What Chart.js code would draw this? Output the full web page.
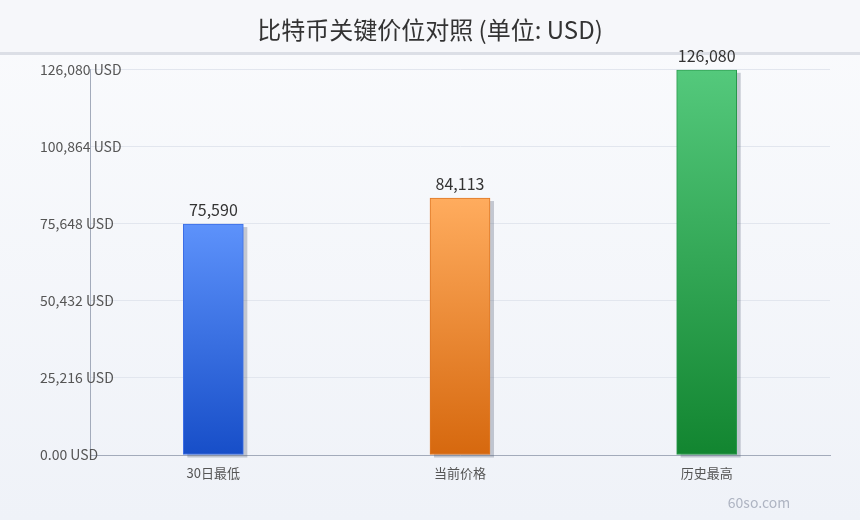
<!DOCTYPE html>
<html>
<head>
<meta charset="utf-8">
<script src="https://cdn.jsdelivr.net/npm/chart.js@4.4.1/dist/chart.umd.min.js"></script>
<style>
  html, body { margin: 0; padding: 0; background: #f4f6fa; }
  #wrap { width: 860px; height: 520px; position: relative; }
</style>
</head>
<body>
<div id="wrap"><canvas id="c" width="860" height="520"></canvas></div>
<script>
const categories = ['30日最低', '当前价格', '历史最高'];
const values = [75590, 84113, 126080];
const yTicks = [0, 25216, 50432, 75648, 100864, 126080];
const titleText = '比特币关键价位对照 (单位: USD)';
const watermarkText = '60so.com';

const topColors = ['#5d92fb', '#ffac5e', '#54c97c'];
const bottomColors = ['#174ec8', '#d6680e', '#128530'];
const borderColors = ['#3c6ee6', '#de7826', '#27984a'];

const FONT = '"Noto Sans CJK SC", "Noto Sans", sans-serif';

const bgPlugin = {
  id: 'bg',
  beforeDraw(chart) {
    const ctx = chart.ctx;
    const w = chart.width, h = chart.height;
    ctx.save();
    const g = ctx.createLinearGradient(0, 0, 0, h);
    g.addColorStop(0, '#fafbfd');
    g.addColorStop(1, '#eff2f8');
    ctx.fillStyle = g;
    ctx.fillRect(0, 0, w, h);
    ctx.fillStyle = '#f6f7fa';
    ctx.fillRect(0, 0, w, 52);
    ctx.fillStyle = '#dcdfe6';
    ctx.fillRect(0, 52, w, 3);
    ctx.restore();
  }
};

const shadowPlugin = {
  id: 'barShadow',
  beforeDatasetsDraw(chart) {
    const ctx = chart.ctx;
    const meta = chart.getDatasetMeta(0);
    ctx.save();
    ctx.fillStyle = 'rgba(90,100,120,0.32)';
    meta.data.forEach((bar) => {
      const p = bar.getProps(['x', 'y', 'base', 'width'], true);
      const left = p.x - p.width / 2;
      ctx.fillRect(left + 4, p.y + 3, p.width, p.base - p.y);
    });
    ctx.restore();
  }
};

const labelPlugin = {
  id: 'valueLabels',
  afterDatasetsDraw(chart) {
    const ctx = chart.ctx;
    const meta = chart.getDatasetMeta(0);
    ctx.save();
    ctx.font = '16px ' + FONT;
    ctx.fillStyle = '#333';
    ctx.textAlign = 'center';
    ctx.textBaseline = 'bottom';
    meta.data.forEach((bar, i) => {
      ctx.fillText(values[i].toLocaleString('en-US'), bar.x, bar.y - 6);
    });
    ctx.font = '14px ' + FONT;
    ctx.fillStyle = '#aeb4c2';
    ctx.textAlign = 'center';
    ctx.textBaseline = 'middle';
    ctx.fillText(watermarkText, 759, 503);
    ctx.restore();
  }
};

function barGradient(ctx) {
  const chart = ctx.chart;
  const area = chart.chartArea;
  if (!area) return topColors[ctx.dataIndex];
  const ys = chart.scales.y;
  const top = ys.getPixelForValue(values[ctx.dataIndex]);
  const bottom = ys.getPixelForValue(0);
  const g = chart.ctx.createLinearGradient(0, top, 0, bottom);
  g.addColorStop(0, topColors[ctx.dataIndex]);
  g.addColorStop(1, bottomColors[ctx.dataIndex]);
  return g;
}

new Chart(document.getElementById('c'), {
  type: 'bar',
  data: {
    labels: categories,
    datasets: [{
      data: values,
      backgroundColor: barGradient,
      borderColor: borderColors,
      borderWidth: 1,
      borderSkipped: false,
      barThickness: 60
    }]
  },
  options: {
    responsive: false,
    animation: false,
    devicePixelRatio: 1,
    layout: { padding: { top: 0, left: 30, right: 30, bottom: 30 } },
    plugins: {
      legend: { display: false },
      tooltip: { enabled: false },
      title: {
        display: true,
        text: titleText,
        color: '#333',
        font: { family: FONT, size: 24, weight: 'normal' },
        padding: { top: 15, bottom: 26 }
      }
    },
    scales: {
      x: {
        grid: { display: false },
        border: { display: true, color: '#a3abbb', width: 1 },
        ticks: { color: '#555', font: { family: FONT, size: 13 }, padding: 2 },
        afterFit(scale) { scale.height = 35; }
      },
      y: {
        min: 0,
        max: 126080,
        afterBuildTicks(scale) { scale.ticks = yTicks.map(v => ({ value: v })); },
        grid: { color: '#e2e6ee', drawTicks: false },
        border: { display: true, color: '#a3abbb', width: 1 },
        ticks: {
          color: '#555',
          font: { family: FONT, size: 14 },
          mirror: true,
          padding: -50,
          callback: (v) => v === 0 ? '0.00 USD' : Number(v).toLocaleString('en-US') + ' USD'
        },
        afterFit(scale) { scale.width = 60; }
      }
    }
  },
  plugins: [bgPlugin, shadowPlugin, labelPlugin]
});
</script>
</body>
</html>
